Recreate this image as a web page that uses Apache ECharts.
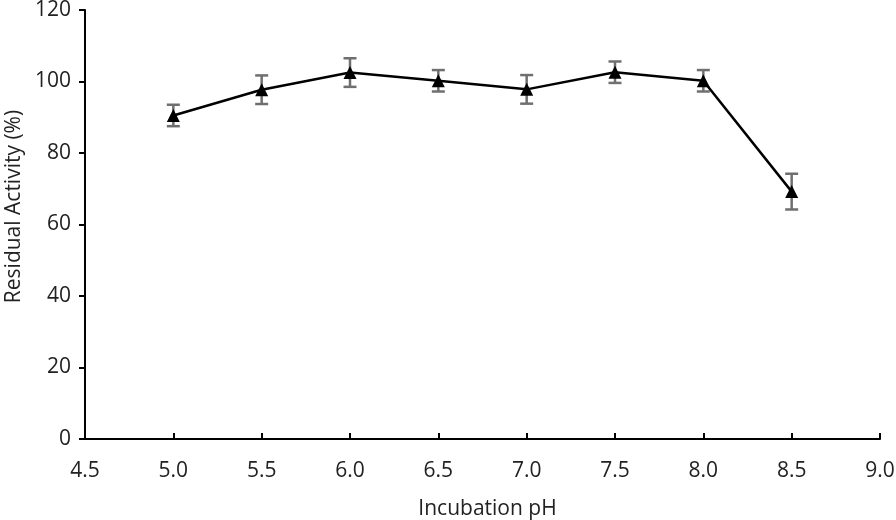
<!DOCTYPE html>
<html><head><meta charset="utf-8">
<script src="https://cdn.jsdelivr.net/npm/echarts@6/dist/echarts.min.js"></script>
<style>html,body{margin:0;padding:0;background:#fff}#c{width:896px;height:520px}</style>
</head><body><div id="c"></div>
<script>
const phValues = [5.0, 5.5, 6.0, 6.5, 7.0, 7.5, 8.0, 8.5];
const activity = [90.5, 97.7, 102.5, 100.2, 97.8, 102.6, 100.2, 69.2];
const errors = [3.0, 4.0, 4.0, 3.0, 4.0, 3.0, 3.0, 5.0];

const lineData = phValues.map((x, i) => [x, activity[i]]);
const errData = phValues.map((x, i) => [x, activity[i] - errors[i], activity[i] + errors[i]]);
const font = '"Open Sans", "Liberation Sans", sans-serif';
const chart = echarts.init(document.getElementById('c'));
chart.setOption({
  animation: false,
  backgroundColor: '#fff',
  grid: {left: 85, right: 16, top: 10, bottom: 81, containLabel: false, outerBoundsMode: 'none'},
  xAxis: {
    type: 'value', min: 4.5, max: 9.0, interval: 0.5,
    name: 'Incubation pH', nameLocation: 'middle', nameGap: 60,
    nameTextStyle: {fontFamily: font, fontSize: 21, color: '#222', padding: [0, 0, 0, 10]},
    axisLine: {lineStyle: {color: '#000', width: 2}},
    axisTick: {inside: true, length: 6, lineStyle: {color: '#000', width: 2}},
    axisLabel: {fontFamily: font, fontSize: 21, color: '#222', margin: 22, formatter: v => v.toFixed(1)},
    splitLine: {show: false}
  },
  yAxis: {
    type: 'value', min: 0, max: 120, interval: 20,
    name: 'Residual Activity (%)', nameLocation: 'middle', nameGap: 59,
    nameTextStyle: {fontFamily: font, fontSize: 21, color: '#222', padding: [0, 0, 0, 36]},
    axisLine: {show: true, lineStyle: {color: '#000', width: 2}},
    axisTick: {show: true, inside: false, length: 6, lineStyle: {color: '#000', width: 2}},
    axisLabel: {fontFamily: font, fontSize: 21, color: '#222', margin: 14},
    splitLine: {show: false}
  },
  series: [
    {
      type: 'custom',
      data: errData,
      z: 1,
      renderItem: function (params, api) {
        const x = api.value(0);
        const lo = api.coord([x, api.value(1)]);
        const hi = api.coord([x, api.value(2)]);
        const w = 6.5;
        const st = {stroke: '#6f6f6f', lineWidth: 2.5};
        return {type: 'group', children: [
          {type: 'line', shape: {x1: lo[0], y1: lo[1], x2: hi[0], y2: hi[1]}, style: st},
          {type: 'line', shape: {x1: lo[0]-w, y1: lo[1], x2: lo[0]+w, y2: lo[1]}, style: st},
          {type: 'line', shape: {x1: hi[0]-w, y1: hi[1], x2: hi[0]+w, y2: hi[1]}, style: st}
        ]};
      }
    },
    {
      type: 'line',
      data: lineData,
      z: 2,
      symbol: 'triangle', symbolSize: 13,
      lineStyle: {color: '#000', width: 2.5},
      itemStyle: {color: '#000'}
    }
  ]
});
</script></body></html>
